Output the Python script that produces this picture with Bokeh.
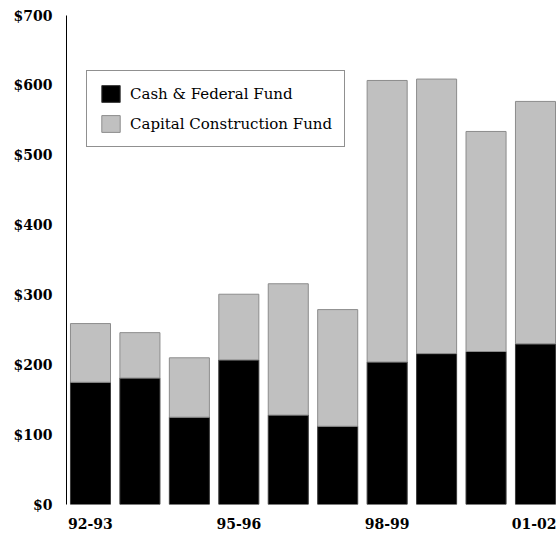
from bokeh.plotting import figure
from bokeh.models import ColumnDataSource, FixedTicker, PrintfTickFormatter, Legend
from bokeh.embed import file_html
from bokeh.resources import INLINE

# ---- data (millions of dollars) ----
years = ["92-93", "93-94", "94-95", "95-96", "96-97", "97-98", "98-99", "99-00", "00-01", "01-02"]
cash_federal = [175, 181, 125, 207, 128, 112, 204, 216, 219, 230]
capital_construction = [84, 65, 85, 94, 188, 167, 403, 393, 315, 347]
shown_labels = ["92-93", "95-96", "98-99", "01-02"]
y_ticks = [0, 100, 200, 300, 400, 500, 600, 700]

FONT = "DejaVu Serif"

src = ColumnDataSource(dict(
    x=list(range(len(years))),
    cash=cash_federal,
    capital=capital_construction,
))

p = figure(width=556, height=535, output_backend="svg", toolbar_location=None,
           x_range=(-0.485, 9.425), y_range=(0, 700),
           min_border_left=66, min_border_right=0, min_border_top=15, min_border_bottom=31)

rs = p.vbar_stack(["cash", "capital"], x="x", width=0.81, source=src,
                  fill_color=["#000000", "#c0c0c0"],
                  line_color=["#3a3a3a", "#8c8c8c"], line_width=1)

p.xgrid.visible = False
p.ygrid.visible = False
p.outline_line_color = None

# y axis
p.yaxis.ticker = FixedTicker(ticks=y_ticks)
p.yaxis.formatter = PrintfTickFormatter(format="$%d")
p.yaxis.major_tick_out = 0
p.yaxis.major_tick_in = 0
p.yaxis.minor_tick_out = 0
p.yaxis.minor_tick_in = 0
p.yaxis.axis_line_color = "#000000"
p.yaxis.major_label_standoff = 14
p.yaxis.major_label_text_font = FONT
p.yaxis.major_label_text_font_style = "bold"
p.yaxis.major_label_text_font_size = "14px"
p.yaxis.major_label_text_color = "#000000"

# x axis
idx_ticks = [years.index(l) for l in shown_labels]
p.xaxis.ticker = FixedTicker(ticks=idx_ticks)
p.xaxis.major_label_overrides = {years.index(l): l for l in shown_labels}
p.xaxis.axis_line_color = None
p.xaxis.major_tick_out = 0
p.xaxis.major_tick_in = 0
p.xaxis.minor_tick_out = 0
p.xaxis.minor_tick_in = 0
p.xaxis.major_label_standoff = 13
p.xaxis.major_label_text_font = FONT
p.xaxis.major_label_text_font_style = "bold"
p.xaxis.major_label_text_font_size = "14px"
p.xaxis.major_label_text_color = "#000000"

legend = Legend(items=[("Cash & Federal Fund", [rs[0]]),
                       ("Capital Construction Fund", [rs[1]])],
                location=(20, 357))
legend.border_line_color = "#222222"
legend.border_line_width = 1
legend.background_fill_alpha = 1
legend.padding = 12
legend.spacing = 9
legend.margin = 0
legend.glyph_width = 23
legend.glyph_height = 21
legend.label_standoff = 8
legend.label_text_font = FONT
legend.label_text_font_size = "15px"
legend.label_text_color = "#000000"
p.add_layout(legend, "center")

open("out.html", "w").write(file_html(p, INLINE))
